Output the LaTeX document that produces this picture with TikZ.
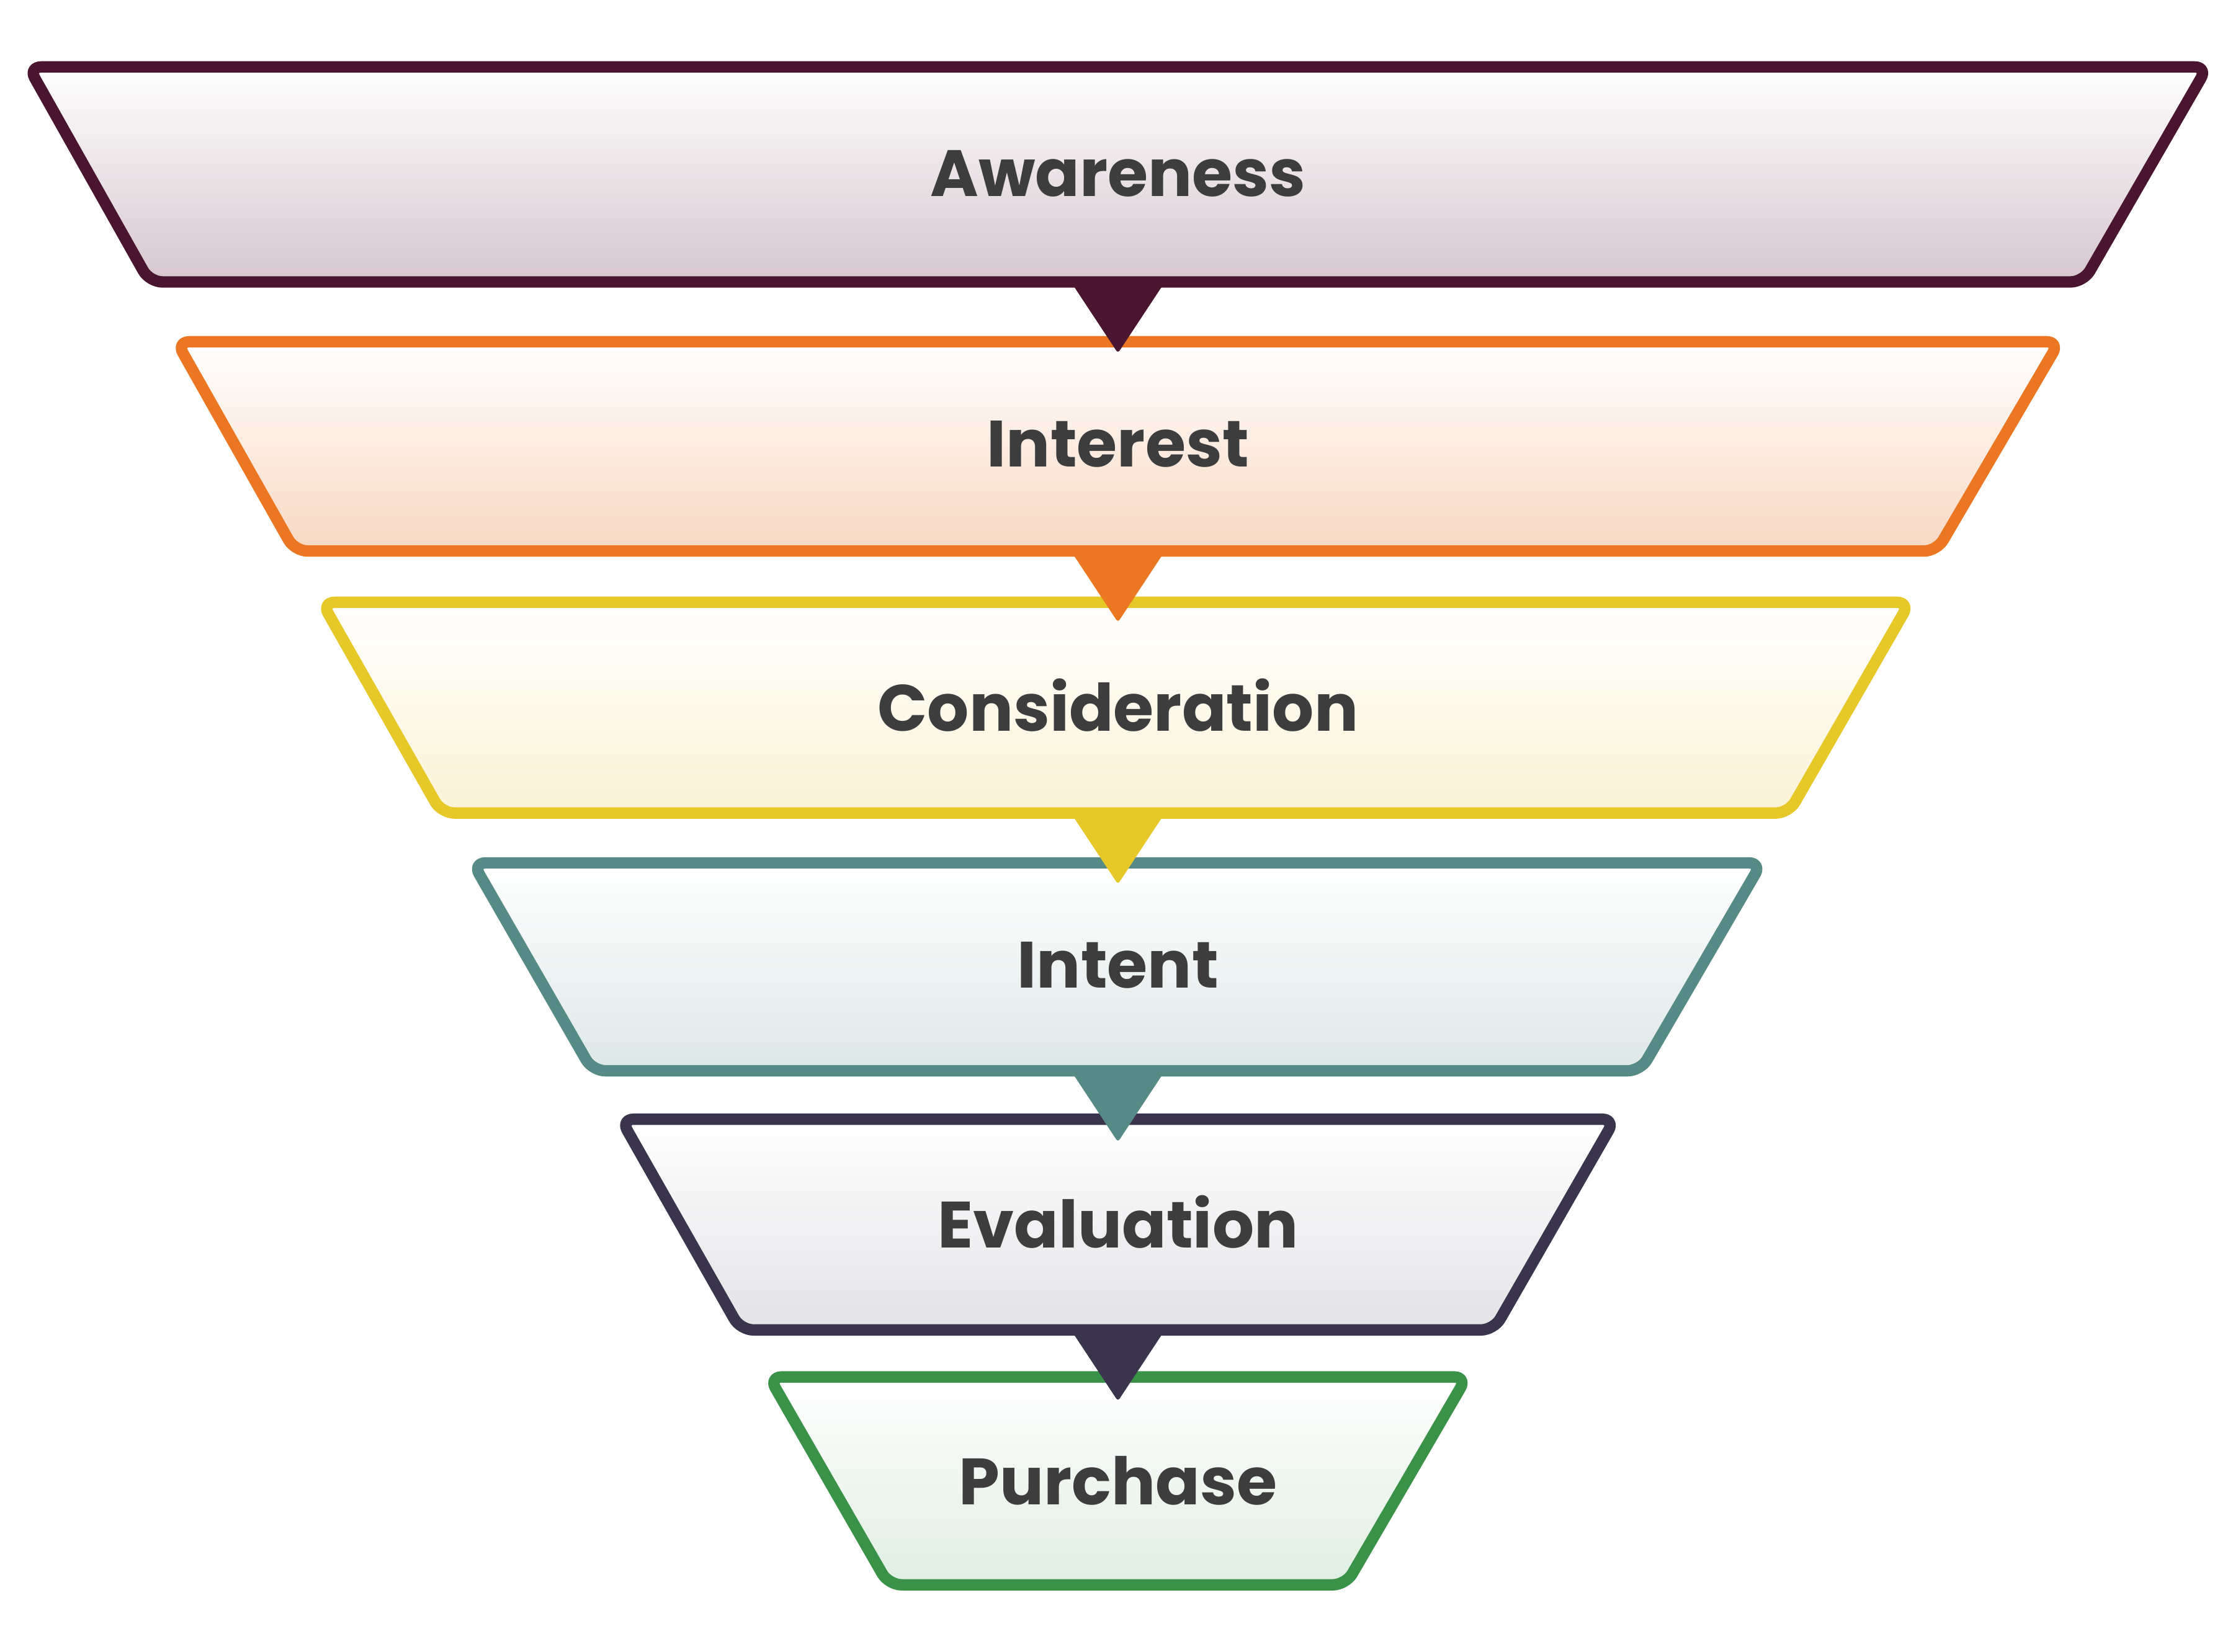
\documentclass[tikz,border=0pt]{standalone}
\usepackage{fontspec}
\setmainfont{Poppins}
\begin{document}
\begin{tikzpicture}[x=1pt,y=-1pt]
\useasboundingbox (0,0) rectangle (1568,1160);
\tikzset{lbl/.style={font=\fontsize{46}{52}\selectfont\bfseries, text=black!76},
  tri/.style={line width=2pt, rounded corners=2pt, line join=round}}
\definecolor{c1}{HTML}{4A1530}\definecolor{f1}{HTML}{D6C6CE}
\definecolor{c2}{HTML}{EC7723}\definecolor{f2}{HTML}{F8D8C2}
\definecolor{c3}{HTML}{E6C929}\definecolor{f3}{HTML}{FBF3D6}
\definecolor{c4}{HTML}{568A87}\definecolor{f4}{HTML}{DDE8E7}
\definecolor{c5}{HTML}{3A354D}\definecolor{f5}{HTML}{E3E2E6}
\definecolor{c6}{HTML}{3A9148}\definecolor{f6}{HTML}{E0EEE2}
\foreach \t/\b/\tl/\tr/\bl/\br/\c in {
 47/198/20/1550/105/1463/1,
 240/387/124/1446/207/1360/2,
 423/571/226/1341/310/1256/3,
 606/752/332/1237/416/1152/4,
 786/934/436/1134/520/1049/5,
 967/1113/540/1030/624/945/6}{
  \shade[top color=white,bottom color=f\c,rounded corners=9pt]
    (\tl,\t) -- (\tr,\t) -- (\br,\b) -- (\bl,\b) -- cycle;
  \draw[c\c,line width=8pt,rounded corners=9pt,line join=round]
    (\tl,\t) -- (\tr,\t) -- (\br,\b) -- (\bl,\b) -- cycle;
}
\foreach \b/\c in {198/1,387/2,571/3,752/4,934/5}{
  \fill[c\c,tri] (752,\b) -- (818,\b) -- (785,\b+50) -- cycle;
}
\node[lbl] (aw) at (785,122) {Awareness};
\node[lbl] (in) at (785,312) {Interest};
\node[lbl] (co) at (785,495) {Consideration};
\node[lbl] (it) at (785,678) {Intent};
\node[lbl] (ev) at (785,858) {Evaluation};
\node[lbl] (pu) at (785,1040) {Purchase};
\end{tikzpicture}
\end{document}
